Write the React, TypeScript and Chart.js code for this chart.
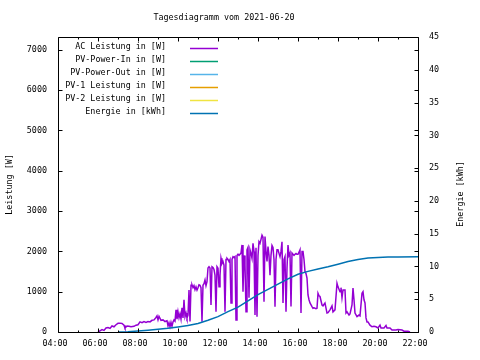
import React, { useEffect, useRef } from "react";
import { Chart, registerables } from "chart.js";

Chart.register(...registerables);

const chartTitle = "Tagesdiagramm vom 2021-06-20";
const leftAxisTitle = "Leistung [W]";
const rightAxisTitle = "Energie [kWh]";

const seriesLabels = [
  "AC Leistung in [W]",
  "PV-Power-In in [W]",
  "PV-Power-Out in [W]",
  "PV-1 Leistung in [W]",
  "PV-2 Leistung in [W]",
  "Energie in [kWh]",
];
const seriesColors = ["#9400d3", "#009e73", "#56b4e9", "#e69f00", "#f0e442", "#0072b2"];

const hourTicks = [4, 5, 6, 7, 8, 9, 10, 11, 12, 13, 14, 15, 16, 17, 18, 19, 20, 21, 22];
const powerTicks = [0, 1000, 2000, 3000, 4000, 5000, 6000, 7000];
const energyTicks = [0, 5, 10, 15, 20, 25, 30, 35, 40, 45];

// [hour, watts]
const acData: [number, number][] = [
  [6.0, 0], [6.1, 30], [6.2, 60], [6.3, 40], [6.4, 100], [6.5, 110], [6.6, 90], [6.7, 150], [6.8, 130],
  [6.9, 180], [7.0, 215], [7.1, 220], [7.2, 210], [7.3, 170], [7.35, 100], [7.45, 150], [7.55, 140],
  [7.65, 130], [7.8, 140], [7.9, 170], [8.0, 180], [8.1, 250], [8.2, 230], [8.3, 260], [8.4, 240],
  [8.5, 260], [8.6, 250], [8.7, 290], [8.8, 300], [8.9, 360], [8.95, 400], [9.0, 300], [9.05, 390],
  [9.15, 290], [9.25, 300], [9.35, 260], [9.45, 280], [9.5, 150], [9.55, 230], [9.6, 130], [9.65, 240],
  [9.7, 140], [9.75, 250], [9.8, 300], [9.85, 270], [9.9, 550], [9.95, 320], [10.0, 500], [10.05, 350],
  [10.1, 450], [10.15, 320], [10.2, 600], [10.25, 350], [10.3, 800], [10.35, 380], [10.4, 470],
  [10.45, 350], [10.5, 420], [10.55, 1040], [10.6, 260], [10.65, 1160], [10.7, 1170], [10.75, 1100],
  [10.8, 1150], [10.85, 1050], [10.9, 1120], [10.95, 1040], [11.0, 1100], [11.05, 1170], [11.1, 1160],
  [11.15, 1100], [11.2, 255], [11.25, 1160], [11.3, 1200], [11.35, 1290], [11.4, 1150], [11.45, 1250],
  [11.5, 1590], [11.55, 1620], [11.6, 1590], [11.65, 670], [11.7, 1620], [11.75, 1600], [11.8, 1550],
  [11.85, 1410], [11.9, 500], [11.95, 1620], [12.0, 1580], [12.05, 1120], [12.1, 1400], [12.15, 1830],
  [12.2, 1700], [12.25, 1750], [12.3, 1660], [12.35, 500], [12.4, 1800], [12.45, 1830], [12.5, 1800],
  [12.55, 1750], [12.6, 1800], [12.65, 720], [12.7, 1800], [12.75, 1870], [12.8, 1850], [12.85, 1870],
  [12.9, 300], [12.95, 1900], [13.0, 1930], [13.05, 1900], [13.1, 1930], [13.15, 1960], [13.2, 2160],
  [13.25, 1000], [13.3, 1900], [13.35, 1660], [13.4, 500], [13.45, 2040], [13.5, 2100], [13.55, 850],
  [13.6, 2040], [13.65, 1950], [13.7, 1830], [13.75, 2200], [13.8, 2000], [13.85, 420], [13.9, 2090],
  [13.95, 380], [14.0, 1900], [14.05, 2240], [14.1, 2200], [14.15, 2300], [14.2, 2400], [14.25, 2350],
  [14.3, 750], [14.35, 2370], [14.4, 2000], [14.45, 1750], [14.5, 2120], [14.55, 1900], [14.6, 1410],
  [14.65, 1900], [14.7, 2150], [14.75, 2100], [14.8, 1800], [14.85, 630], [14.9, 1800], [14.95, 2040],
  [15.0, 2040], [15.05, 1950], [15.1, 1870], [15.15, 2000], [15.2, 2240], [15.25, 720], [15.3, 1800],
  [15.35, 1870], [15.4, 500], [15.45, 1590], [15.5, 2160], [15.55, 1900], [15.6, 1960], [15.65, 630],
  [15.7, 1960], [15.75, 1930], [15.8, 1900], [15.85, 1930], [15.9, 1950], [15.95, 1930], [16.0, 1930],
  [16.05, 1980], [16.1, 2040], [16.15, 470], [16.2, 2000], [16.25, 2000], [16.3, 1800], [16.35, 1500],
  [16.4, 1450], [16.45, 1340], [16.5, 920], [16.55, 800], [16.6, 720], [16.7, 630], [16.75, 590],
  [16.8, 600], [16.9, 580], [16.95, 590], [17.0, 960], [17.05, 900], [17.1, 880], [17.2, 670],
  [17.25, 650], [17.35, 720], [17.45, 470], [17.5, 480], [17.6, 550], [17.7, 650], [17.75, 500],
  [17.85, 550], [17.95, 1210], [18.0, 1120], [18.1, 1000], [18.15, 1100], [18.2, 850], [18.25, 1040],
  [18.35, 1040], [18.4, 470], [18.45, 500], [18.55, 420], [18.6, 450], [18.7, 670], [18.75, 1090],
  [18.8, 800], [18.85, 470], [18.95, 380], [19.05, 420], [19.1, 400], [19.2, 960], [19.25, 1000],
  [19.3, 800], [19.35, 720], [19.4, 350], [19.45, 250], [19.5, 250], [19.6, 170], [19.7, 130],
  [19.8, 140], [19.9, 130], [20.0, 100], [20.1, 170], [20.15, 100], [20.3, 100], [20.4, 160],
  [20.45, 100], [20.6, 100], [20.7, 50], [20.9, 50], [21.0, 60], [21.2, 50], [21.3, 20], [21.5, 20],
  [21.6, 0],
];

// [hour, kWh]
const energyData: [number, number][] = [
  [7.0, 0], [7.5, 0.05], [8.0, 0.15], [8.5, 0.28], [9.0, 0.42], [9.5, 0.58], [10.0, 0.78], [10.5, 0.98],
  [11.0, 1.3], [11.5, 1.8], [12.0, 2.34], [12.5, 3.1], [13.0, 3.8], [13.5, 4.75], [14.0, 5.7],
  [14.5, 6.5], [15.0, 7.3], [15.5, 8.1], [16.0, 8.8], [16.5, 9.25], [17.0, 9.6], [17.5, 9.95],
  [18.0, 10.35], [18.5, 10.75], [19.0, 11.05], [19.5, 11.27], [20.0, 11.38], [20.5, 11.43],
  [21.0, 11.45], [22.0, 11.46],
];

const FONT = "'DejaVu Sans Mono', monospace";
const FONT_SIZE = 8.4;

const framePlugin = {
  id: "gnuframe",
  afterDatasetsDraw(chart: any) {
    const { ctx, chartArea: a, scales } = chart;
    ctx.save();
    ctx.strokeStyle = "#000";
    ctx.lineWidth = 1;
    const L = Math.round(a.left) + 0.5;
    const R = Math.round(a.right) + 0.5;
    const T = Math.round(a.top) + 0.5;
    const B = Math.round(a.bottom) + 0.5;
    ctx.beginPath();
    ctx.rect(L, T, R - L, B - T);
    const line = (x1: number, y1: number, x2: number, y2: number) => {
      ctx.moveTo(x1, y1);
      ctx.lineTo(x2, y2);
    };
    for (const v of powerTicks) {
      const y = Math.round(scales.y.getPixelForValue(v)) + 0.5;
      line(L, y, L + 4, y);
      line(R - 4, y, R, y);
    }
    for (const v of energyTicks) {
      const y = Math.round(scales.y2.getPixelForValue(v)) + 0.5;
      line(R - 4, y, R, y);
    }
    for (const h of hourTicks) {
      const x = Math.round(scales.x.getPixelForValue(h)) + 0.5;
      const len = h % 2 === 0 ? 4 : 2;
      line(x, B, x, B - len);
      line(x, T, x, T + len);
    }
    ctx.stroke();
    ctx.restore();
  },
  afterDraw(chart: any) {
    const { ctx } = chart;
    ctx.save();
    ctx.fillStyle = "#000";
    ctx.font = `${FONT_SIZE}px ${FONT}`;
    ctx.textBaseline = "middle";
    // title
    ctx.textAlign = "center";
    ctx.fillText(chartTitle, 224, 18);
    // right axis title, reading bottom to top
    ctx.save();
    ctx.translate(461, 194);
    ctx.rotate(-Math.PI / 2);
    ctx.fillText(rightAxisTitle, 0, 0);
    ctx.restore();
    // key
    chart.data.datasets.forEach((ds: any, i: number) => {
      const y = 47 + 13 * i;
      ctx.textAlign = "right";
      ctx.fillStyle = "#000";
      ctx.fillText(ds.label, 166, y);
      ctx.strokeStyle = ds.borderColor;
      ctx.lineWidth = 1.5;
      ctx.beginPath();
      ctx.moveTo(190, y + 1.5);
      ctx.lineTo(218, y + 1.5);
      ctx.stroke();
    });
    ctx.restore();
  },
};

const pad2 = (n: number) => (n < 10 ? "0" + n : "" + n);

export default function App() {
  const ref = useRef<HTMLCanvasElement | null>(null);
  useEffect(() => {
    if (!ref.current) return;
    const tickFont = { family: FONT, size: FONT_SIZE };
    const datasets: any[] = seriesLabels.map((label, i) => ({
      label,
      borderColor: seriesColors[i],
      backgroundColor: seriesColors[i],
      borderWidth: 1.5,
      pointRadius: 0,
      tension: 0,
      fill: false,
      yAxisID: i === 5 ? "y2" : "y",
      order: i === 5 ? 0 : i + 1,
      data: [] as { x: number; y: number }[],
    }));
    datasets[0].data = acData.map(([x, y]) => ({ x, y }));
    datasets[5].data = energyData.map(([x, y]) => ({ x, y }));

    const chart = new Chart(ref.current, {
      type: "line",
      data: { datasets },
      plugins: [framePlugin],
      options: {
        animation: false,
        responsive: false,
        maintainAspectRatio: false,
        color: "#000",
        layout: { padding: { left: 0, right: 0, top: 37, bottom: 0 } },
        plugins: { legend: { display: false }, tooltip: { enabled: false }, title: { display: false } },
        scales: {
          x: {
            type: "linear",
            min: 4,
            max: 22,
            grid: { display: false, drawTicks: false },
            border: { display: false },
            afterFit: (s: any) => {
              s.height = 28;
            },
            afterBuildTicks: (s: any) => {
              s.ticks = hourTicks.map((v) => ({ value: v }));
            },
            ticks: {
              autoSkip: false,
              maxRotation: 0,
              minRotation: 0,
              padding: 7,
              labelOffset: -3,
              color: "#000",
              font: tickFont,
              callback: (v: any) => (Number(v) % 2 === 0 ? pad2(Number(v)) + ":00" : ""),
            },
          },
          y: {
            type: "linear",
            position: "left",
            min: 0,
            max: 7320,
            grid: { display: false, drawTicks: false },
            border: { display: false },
            afterFit: (s: any) => {
              s.width = 58;
            },
            afterBuildTicks: (s: any) => {
              s.ticks = powerTicks.map((v) => ({ value: v }));
            },
            title: {
              display: true,
              text: leftAxisTitle,
              color: "#000",
              font: tickFont,
              padding: { top: 5, bottom: 0 },
            },
            ticks: { padding: 11, color: "#000", font: tickFont, callback: (v: any) => String(v) },
          },
          y2: {
            type: "linear",
            position: "right",
            min: 0,
            max: 45,
            grid: { display: false, drawTicks: false },
            border: { display: false },
            afterFit: (s: any) => {
              s.width = 62;
            },
            afterBuildTicks: (s: any) => {
              s.ticks = energyTicks.map((v) => ({ value: v }));
            },
            ticks: { padding: 11, color: "#000", font: tickFont, callback: (v: any) => String(v) },
          },
        },
      } as any,
    });
    return () => chart.destroy();
  }, []);

  return (
    <div style={{ position: "fixed", left: 0, top: 0, width: 480, height: 360, background: "#fff" }}>
      <canvas ref={ref} width={480} height={360} style={{ width: 480, height: 360 }} />
    </div>
  );
}
